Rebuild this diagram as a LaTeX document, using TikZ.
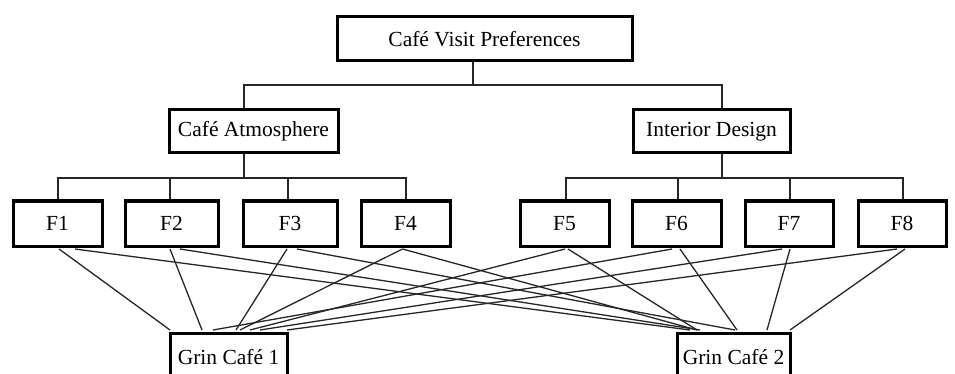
\documentclass[tikz,border=0pt]{standalone}
\usepackage{fontspec}
\setmainfont{Liberation Serif}
\begin{document}
\begin{tikzpicture}[x=1pt,y=-1pt,
  box/.style={draw=black,line width=3pt,fill=white,inner sep=0pt,font=\fontsize{21.5}{25}\selectfont},
  tree/.style={draw=black!85,line width=1.4pt},
  link/.style={draw=black!85,line width=1.3pt}]
\useasboundingbox (0,0) rectangle (955,374);
\clip (0,0) rectangle (955,374);
% tree connectors
\coordinate (t0) at (473,61);
\coordinate (t1) at (473,85);
\coordinate (a0) at (244,153);
\coordinate (a1) at (244,178);
\coordinate (b0) at (722,153);
\coordinate (b1) at (722,178);
\draw[tree] (t0) -- (t1);
\draw[tree] (244,110) |- (t1) -| (722,110);
\draw[tree] (a0) -- (a1);
\draw[tree] (b0) -- (b1);
\draw[tree] (58,201) |- (a1) -| (406,201);
\draw[tree] (170,201) |- (a1) -| (288,201);
\draw[tree] (566,201) |- (b1) -| (903,201);
\draw[tree] (678,201) |- (b1) -| (790,201);
% nodes
\node[box,minimum width=295pt,minimum height=44pt] (top) at (484.5,39) {Café Visit Preferences};
\node[box,minimum width=169pt,minimum height=43pt] (ca) at (253.5,131.5) {Café Atmosphere};
\node[box,minimum width=157pt,minimum height=43pt] (id) at (711.5,131.5) {Interior Design};
\node[box,minimum width=89pt,minimum height=45pt] (F1) at (57.5,223.5) {F1};
\node[box,minimum width=93pt,minimum height=45pt] (F2) at (171.5,223.5) {F2};
\node[box,minimum width=94pt,minimum height=45pt] (F3) at (290,223.5) {F3};
\node[box,minimum width=89pt,minimum height=45pt] (F4) at (405.5,223.5) {F4};
\node[box,minimum width=89pt,minimum height=45pt] (F5) at (564.5,223.5) {F5};
\node[box,minimum width=89pt,minimum height=45pt] (F6) at (676.5,223.5) {F6};
\node[box,minimum width=88pt,minimum height=45pt] (F7) at (789,223.5) {F7};
\node[box,minimum width=88pt,minimum height=45pt] (F8) at (902,223.5) {F8};
\node[box,minimum width=117pt,minimum height=48pt] (G1) at (228.5,357) {Grin Café 1};
\node[box,minimum width=113pt,minimum height=48pt] (G2) at (733.5,357) {Grin Café 2};
% links to Grin Café 1
\draw[link] ([xshift=1.5pt,yshift=-1.5pt]F1.south) -- ([xshift=-58.5pt,yshift=1.5pt]G1.north);
\draw[link] ([xshift=-1.5pt,yshift=-1.5pt]F2.south) -- ([xshift=-26.5pt,yshift=1.5pt]G1.north);
\draw[link] ([xshift=-3pt,yshift=-1.5pt]F3.south) -- ([xshift=7.5pt,yshift=1.5pt]G1.north);
\draw[link] ([xshift=-3pt,yshift=-1.5pt]F4.south) -- ([xshift=11.5pt,yshift=1.5pt]G1.north);
\draw[link] ([xshift=0.5pt,yshift=-1.5pt]F5.south) -- ([xshift=21.5pt,yshift=1.5pt]G1.north);
\draw[link] ([xshift=-4.5pt,yshift=-1.5pt]F6.south) -- ([xshift=-15.5pt,yshift=1.5pt]G1.north);
\draw[link] ([xshift=-7pt,yshift=-1.5pt]F7.south) -- ([xshift=31.5pt,yshift=1.5pt]G1.north);
\draw[link] ([xshift=-5pt,yshift=-1.5pt]F8.south) -- ([xshift=58.5pt,yshift=1.5pt]G1.north);
% links to Grin Café 2
\draw[link] ([xshift=17.5pt,yshift=-1.5pt]F1.south) -- ([xshift=-43.5pt,yshift=1.5pt]G2.north);
\draw[link] ([xshift=8.5pt,yshift=-1.5pt]F2.south) -- ([xshift=-33.5pt,yshift=1.5pt]G2.north);
\draw[link] ([xshift=7pt,yshift=-1.5pt]F3.south) -- ([xshift=1.5pt,yshift=1.5pt]G2.north);
\draw[link] ([xshift=-3pt,yshift=-1.5pt]F4.south) -- ([xshift=-36.5pt,yshift=1.5pt]G2.north);
\draw[link] ([xshift=3.5pt,yshift=-1.5pt]F5.south) -- ([xshift=-36.5pt,yshift=1.5pt]G2.north);
\draw[link] ([xshift=3.5pt,yshift=-1.5pt]F6.south) -- ([xshift=3.5pt,yshift=1.5pt]G2.north);
\draw[link] ([xshift=1pt,yshift=-1.5pt]F7.south) -- ([xshift=33.5pt,yshift=1.5pt]G2.north);
\draw[link] ([xshift=3pt,yshift=-1.5pt]F8.south) -- ([xshift=56.5pt,yshift=1.5pt]G2.north);
\end{tikzpicture}
\end{document}
